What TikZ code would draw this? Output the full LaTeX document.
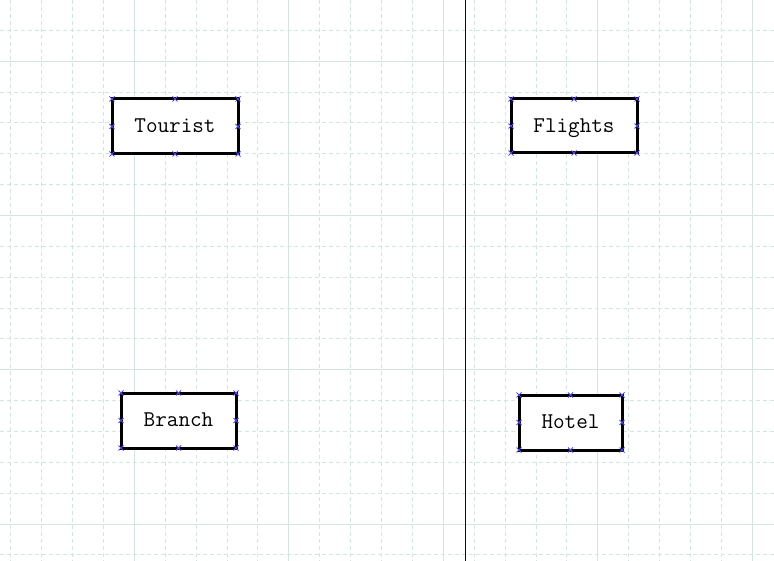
\documentclass[tikz,border=0pt]{standalone}
\usepackage{fontspec}
\definecolor{gridline}{RGB}{212,228,226}
\definecolor{marker}{RGB}{80,70,225}
\definecolor{divider}{RGB}{0,0,100}
\tikzstyle{entity}=[rectangle,draw=black,fill=white,line width=3pt,outer sep=0pt,inner sep=0pt,minimum height=55pt,text height=13pt,text depth=0.4pt,font=\fontsize{22.5}{26}\selectfont\ttfamily]
\tikzstyle{minor}=[draw=gridline,line width=1pt,dash pattern=on 4pt off 3pt]
\tikzstyle{major}=[draw=gridline,line width=1pt]
\tikzstyle{cross}=[draw=marker,line width=0.9pt]

\begin{document}
\begin{tikzpicture}[x=1pt,y=-1pt]
\useasboundingbox (0,0) rectangle (774,561);
\fill[white] (0,0) rectangle (774,561);

% grid
\foreach \i in {0,...,24} \draw[minor] ({10.7+30.9*\i},0) -- ({10.7+30.9*\i},561);
\foreach \i in {0,...,18} \draw[minor] (0,{-0.4+30.85*\i}) -- (774,{-0.4+30.85*\i});
\foreach \x in {134.3,288.8,443.3,597.8,752.3} \draw[major] (\x,0) -- (\x,561);
\foreach \y in {61.3,215.5,369.7,524} \draw[major] (0,\y) -- (774,\y);

\draw[divider, line width=1pt] (465.3,0) -- (465.3,561);

\node (tourist) at (175,126.5) [entity,minimum width=126pt] {Tourist};
\node (flights) at (574,126)   [entity,minimum width=126pt,minimum height=54pt] {Flights};
\node (branch)  at (178.5,420.5) [entity,minimum width=115pt] {Branch};
\node (hotel)   at (570.5,422.5) [entity,minimum width=103pt] {Hotel};

% handles
\foreach \n in {tourist,flights,branch,hotel}
  \foreach \a in {north west,north,north east,west,east,south west,south,south east}
    \draw[cross] (\n.\a) ++(-2.5,-2.5) -- ++(5,5) ++(0,-5) -- ++(-5,5);
\end{tikzpicture}
\end{document}
